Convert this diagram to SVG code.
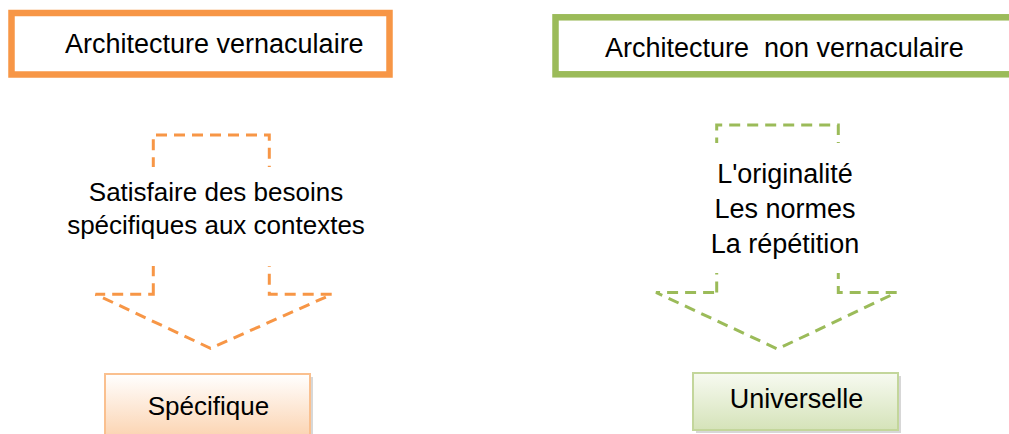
<svg xmlns="http://www.w3.org/2000/svg" width="1009" height="434" viewBox="0 0 1009 434">
  <defs>
    <linearGradient id="gOrange" x1="0" y1="0" x2="0" y2="1">
      <stop offset="0" stop-color="#ffffff"/>
      <stop offset="1" stop-color="#fbcfa9"/>
    </linearGradient>
    <linearGradient id="gGreen" x1="0" y1="0" x2="0" y2="1">
      <stop offset="0" stop-color="#f7faf1"/>
      <stop offset="1" stop-color="#d5e3b9"/>
    </linearGradient>
  </defs>
  <style>
    text { font-family: "Liberation Sans", Arial, sans-serif; fill: #000; }
    .t27 { font-size: 27px; }
    .t26 { font-size: 26px; }
    .mid { text-anchor: middle; }
    .dashO { fill: none; stroke: #f79646; stroke-width: 3; stroke-dasharray: 11 7; }
    .dashG { fill: none; stroke: #9bbb59; stroke-width: 3; stroke-dasharray: 11 7; }
    .shadow { fill: #a6a6a6; opacity: 0.45; }
  </style>

  <g id="title-vernaculaire">
    <rect x="11.5" y="13" width="378" height="61.5" fill="#ffffff" stroke="#f79646" stroke-width="6.5"/>
    <text class="t27" x="65" y="53">Architecture vernaculaire</text>
  </g>

  <g id="title-non-vernaculaire">
    <rect x="555.5" y="17.3" width="470" height="57" fill="#ffffff" stroke="#9bbb59" stroke-width="6.5"/>
    <text class="t27" x="605" y="57.3" style="white-space:pre" xml:space="preserve">Architecture  non vernaculaire</text>
  </g>

  <g id="connectors">
    <g id="arrow-left">
      <path class="dashO" d="M153.3,294.3 L153.3,135 L269.3,135 L269.3,294.3 L332,294.3 L210.5,348.3 L95.5,294.3 Z"/>
      <rect x="145" y="167" width="135" height="99" fill="#ffffff"/>
    </g>
    <g id="arrow-right">
      <path class="dashG" d="M716.7,292.5 L716.7,125 L838.3,125 L838.3,292.5 L896.7,292.5 L777.5,349 L656,292.5 Z"/>
      <rect x="708" y="143" width="140" height="130" fill="#ffffff"/>
    </g>
  </g>

  <g id="label-left">
    <text class="t26 mid" x="216" y="201">Satisfaire des besoins</text>
    <text class="t26 mid" x="216" y="234">spécifiques aux contextes</text>
  </g>

  <g id="label-right">
    <text class="t27 mid" x="785" y="182.7">L'originalité</text>
    <text class="t27 mid" x="785" y="218.3">Les normes</text>
    <text class="t27 mid" x="785" y="253.3">La répétition</text>
  </g>

  <g id="box-specifique">
    <rect class="shadow" x="108" y="377" width="205" height="70"/>
    <rect x="105" y="374" width="205" height="70" fill="url(#gOrange)" stroke="#fac08f" stroke-width="2"/>
    <text class="t26 mid" x="208.5" y="415">Spécifique</text>
  </g>

  <g id="box-universelle">
    <rect class="shadow" x="696" y="376" width="205" height="57"/>
    <rect x="693" y="373" width="205" height="57" fill="url(#gGreen)" stroke="#c3d69b" stroke-width="2"/>
    <text class="t27 mid" x="796.5" y="408">Universelle</text>
  </g>
</svg>
